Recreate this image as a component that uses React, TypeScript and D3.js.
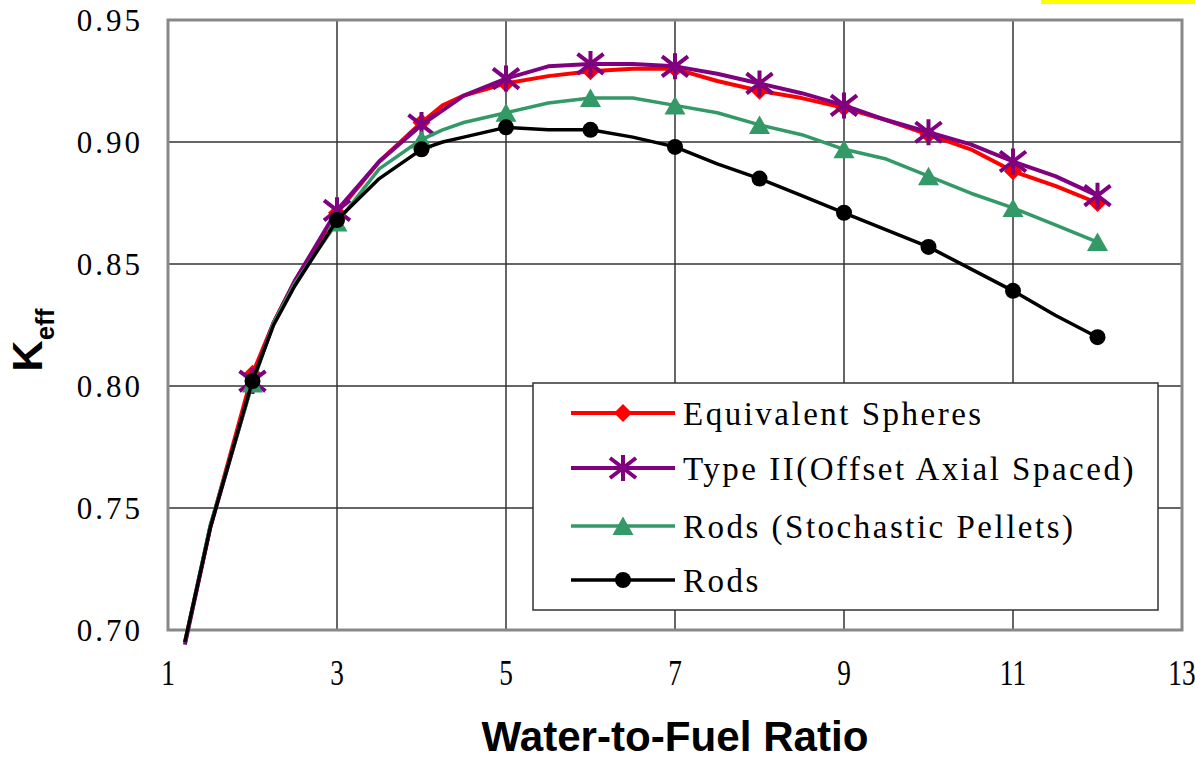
import React from 'react';
import * as d3 from 'd3';

// ---- Data ----
const ratios = [1.2, 1.5, 2, 2.25, 2.5, 3, 3.5, 4, 4.25, 4.5, 5, 5.5, 6, 6.5, 7, 7.5, 8, 8.5, 9, 9.5, 10, 10.5, 11, 11.5, 12];
const equivalentSpheres = [0.695, 0.742, 0.805, 0.826, 0.843, 0.871, 0.892, 0.908, 0.915, 0.919, 0.924, 0.927, 0.929, 0.930, 0.930, 0.925, 0.921, 0.918, 0.914, 0.909, 0.903, 0.897, 0.888, 0.882, 0.875];
const typeII = [0.694, 0.742, 0.802, 0.826, 0.843, 0.872, 0.892, 0.907, 0.913, 0.919, 0.926, 0.931, 0.932, 0.932, 0.931, 0.928, 0.924, 0.920, 0.915, 0.909, 0.904, 0.899, 0.892, 0.886, 0.878];
const rodsStochastic = [0.695, 0.743, 0.801, 0.826, 0.842, 0.867, 0.889, 0.901, 0.905, 0.908, 0.912, 0.916, 0.918, 0.918, 0.915, 0.912, 0.907, 0.903, 0.897, 0.893, 0.886, 0.879, 0.873, 0.866, 0.859];
const rods = [0.695, 0.742, 0.802, 0.825, 0.841, 0.868, 0.885, 0.897, 0.900, 0.902, 0.906, 0.905, 0.905, 0.902, 0.898, 0.891, 0.885, 0.878, 0.871, 0.864, 0.857, 0.848, 0.839, 0.829, 0.820];
const seriesNames = ['Equivalent Spheres', 'Type II(Offset Axial Spaced)', 'Rods (Stochastic Pellets)', 'Rods'];
const xTicks = [1, 3, 5, 7, 9, 11, 13];
const yTicks = [0.70, 0.75, 0.80, 0.85, 0.90, 0.95];
const xTitle = 'Water-to-Fuel Ratio';

const W = 1195, H = 761;
const PL = 168, PR = 1182, PT = 20, PB = 630;

const x = d3.scaleLinear().domain([1, 13]).range([PL, PR]);
const y = d3.scaleLinear().domain([0.70, 0.95]).range([PB, PT]);

type Kind = 'diamond' | 'star' | 'triangle' | 'circle';
const series = [
  { name: seriesNames[0], values: equivalentSpheres, color: '#FF0000', kind: 'diamond' as Kind, w: 4 },
  { name: seriesNames[1], values: typeII, color: '#800080', kind: 'star' as Kind, w: 4 },
  { name: seriesNames[2], values: rodsStochastic, color: '#339966', kind: 'triangle' as Kind, w: 3.5 },
  { name: seriesNames[3], values: rods, color: '#000000', kind: 'circle' as Kind, w: 3.5 },
];

function Marker({ kind, cx, cy, color }: { kind: Kind; cx: number; cy: number; color: string }) {
  if (kind === 'diamond') {
    const r = 9;
    return <path d={`M${cx},${cy - r}L${cx + r},${cy}L${cx},${cy + r}L${cx - r},${cy}Z`} fill={color} />;
  }
  if (kind === 'star') {
    return (
      <path
        d={`M${cx},${cy - 13}L${cx},${cy + 13}M${cx - 13},${cy - 10}L${cx + 13},${cy + 10}M${cx - 13},${cy + 10}L${cx + 13},${cy - 10}`}
        stroke={color}
        strokeWidth={4}
        fill="none"
      />
    );
  }
  if (kind === 'triangle') {
    return <path d={`M${cx},${cy - 9.5}L${cx + 10.5},${cy + 9}L${cx - 10.5},${cy + 9}Z`} fill={color} />;
  }
  return <circle cx={cx} cy={cy} r={8} fill={color} />;
}

export default function App() {
  const line = d3
    .line<number>()
    .x((_, i) => x(ratios[i]))
    .y((d) => y(d));

  const legendX = 533, legendY = 383, legendW = 625, legendH = 227;
  const legendRows = [413, 468, 526, 580];

  return (
    <svg
      width={W}
      height={H}
      style={{ position: 'absolute', left: 0, top: 0, background: '#fff' }}
      xmlns="http://www.w3.org/2000/svg"
    >
      <rect x={0} y={0} width={W} height={H} fill="#fff" />
      <rect x={1041} y={0} width={154} height={4} fill="#FFFF00" />

      {/* gridlines */}
      {xTicks.slice(1, -1).map((t) => (
        <line key={'gx' + t} x1={x(t)} x2={x(t)} y1={PT} y2={PB} stroke="#000" strokeWidth={1.2} />
      ))}
      {yTicks.slice(1, -1).map((t) => (
        <line key={'gy' + t} x1={PL} x2={PR} y1={y(t)} y2={y(t)} stroke="#333" strokeWidth={1.3} />
      ))}

      {/* plot border */}
      <rect x={PL} y={PT} width={PR - PL} height={PB - PT} fill="none" stroke="#888" strokeWidth={3} />

      {/* y tick labels */}
      {yTicks.map((t) => (
        <text
          key={'yt' + t}
          x={143}
          y={y(t)}
          dy="0.35em"
          textAnchor="end"
          fontFamily="'Liberation Serif', 'Times New Roman', serif"
          fontSize={31}
          letterSpacing={3}
          fill="#000"
        >
          {t.toFixed(2)}
        </text>
      ))}

      {/* x tick labels */}
      {xTicks.map((t) => (
        <text
          key={'xt' + t}
          transform={`translate(${x(t)},685) scale(0.78,1)`}
          textAnchor="middle"
          fontFamily="'Liberation Serif', 'Times New Roman', serif"
          fontSize={35}
          fill="#000"
        >
          {t}
        </text>
      ))}

      {/* axis titles */}
      <text
        transform="translate(675,751) scale(0.98,1)"
        textAnchor="middle"
        fontFamily="'Liberation Sans', Arial, sans-serif"
        fontWeight="bold"
        fontSize={43}
        fill="#000"
      >
        {xTitle}
      </text>
      <text
        transform="translate(42,340) rotate(-90)"
        textAnchor="middle"
        fontFamily="'Liberation Sans', Arial, sans-serif"
        fontWeight="bold"
        fill="#000"
      >
        <tspan fontSize={43}>K</tspan>
        <tspan fontSize={26} dy={12}>eff</tspan>
      </text>

      {/* series */}
      {series.map((s) => (
        <g key={s.name}>
          <path d={line(s.values) || ''} fill="none" stroke={s.color} strokeWidth={s.w} strokeLinejoin="round" />
          {s.values.map((v, i) =>
            Number.isInteger(ratios[i]) ? (
              <Marker key={i} kind={s.kind} cx={x(ratios[i])} cy={y(v)} color={s.color} />
            ) : null
          )}
        </g>
      ))}

      {/* legend */}
      <rect x={legendX} y={legendY} width={legendW} height={legendH} fill="#fff" stroke="#333" strokeWidth={1.5} />
      {series.map((s, i) => (
        <g key={'lg' + s.name}>
          <line x1={571} x2={675} y1={legendRows[i]} y2={legendRows[i]} stroke={s.color} strokeWidth={s.w} />
          <Marker kind={s.kind} cx={623} cy={legendRows[i]} color={s.color} />
          <text
            x={683}
            y={legendRows[i]}
            dy="0.35em"
            fontFamily="'Liberation Serif', 'Times New Roman', serif"
            fontSize={33}
            letterSpacing={2.5}
            fill="#000"
          >
            {s.name}
          </text>
        </g>
      ))}
    </svg>
  );
}
